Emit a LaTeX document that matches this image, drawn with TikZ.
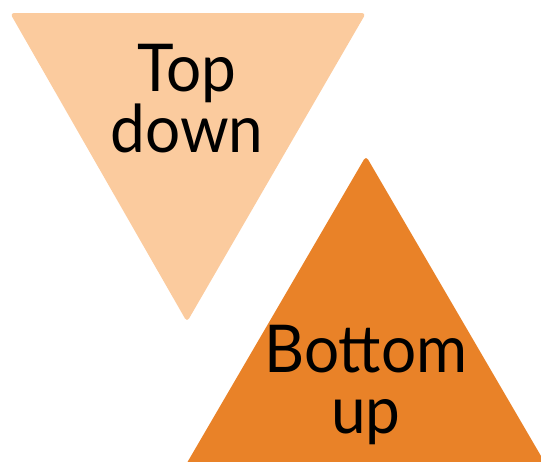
\documentclass[tikz,border=0pt]{standalone}
\usepackage{fontspec}
\setmainfont{Lato}[FakeStretch=0.94]
\usepackage{xcolor}
\usepackage{tikz}
\definecolor{LightOrange}{RGB}{251, 203, 158}
\definecolor{DarkOrange}{RGB}{233, 130, 40}

\begin{document}
\begin{tikzpicture}[
        x=1pt, y=-1pt,
        tri/.style = {rounded corners=4pt},
        label/.style = {align=center, inner sep=0pt, font=\fontsize{66}{61}\selectfont}
    ]
        % Frame
        \useasboundingbox (0,0) rectangle (541,461);
        \clip (0,0) rectangle (541,461);

        % Top down triangle
        \fill [tri, fill=LightOrange] (10,13) -- (366,13) -- (187,322) -- cycle;
        \node (topdown) [label] at (187,98.5) {Top\\down};

        % Bottom up triangle
        \fill [tri, fill=DarkOrange] (366,156) -- (590,540) -- (142,540) -- cycle;
        \node (bottomup) [label] at (366,385.5) {Bottom\\up};
    \end{tikzpicture}
\end{document}
